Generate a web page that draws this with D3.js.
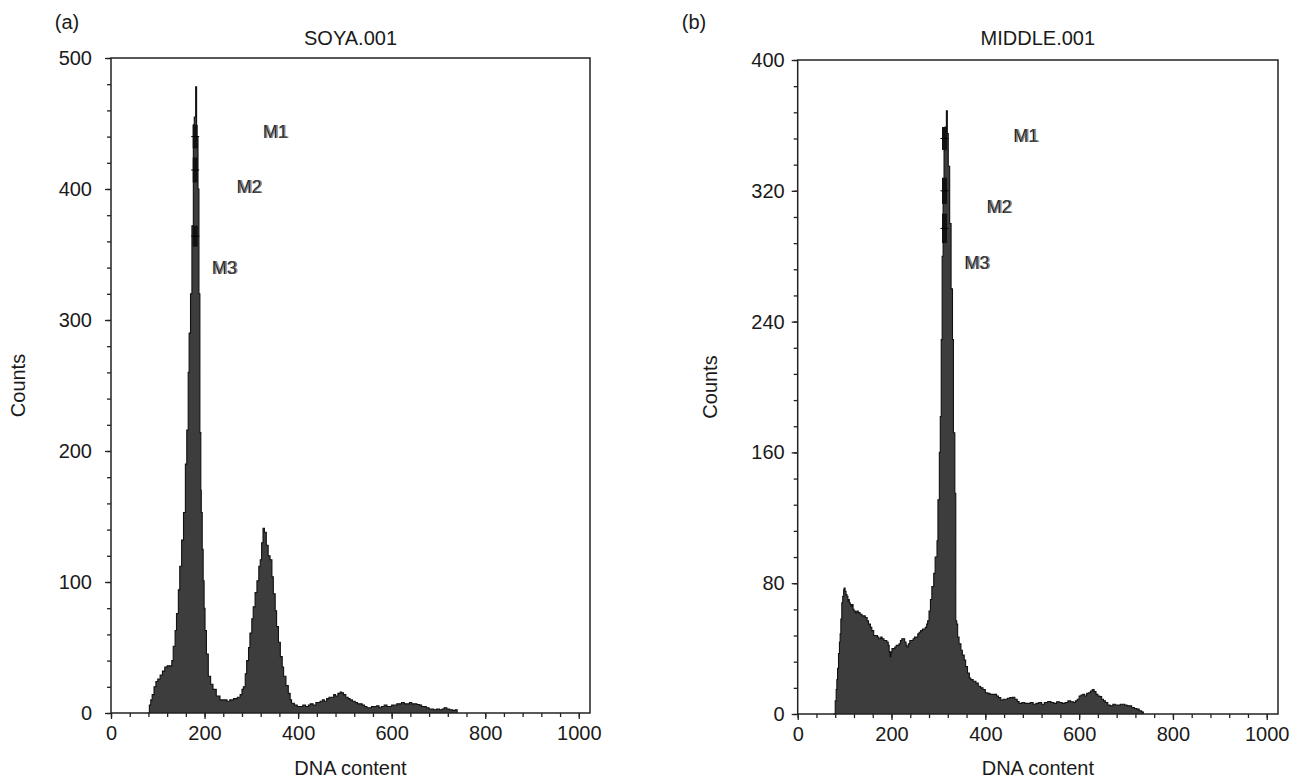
<!DOCTYPE html>
<html>
<head>
<meta charset="utf-8">
<script src="https://cdn.jsdelivr.net/npm/d3@7"></script>
<style>
  body { margin: 0; background: #fff; }
  text { font-family: "Liberation Sans", Arial, sans-serif; fill: #1a1a1a; }
</style>
</head>
<body>
<div class="chart"></div>
<script>
// ---- data ----
// panel (a) SOYA.001
var soyaChannel = [78,80,82,85,88,92,96,100,105,110,115,120,126,130,133,137,140,144,147,151,155,159,162,165,167,170,173,176,178,180,181,182,183,186,188,190,192,193,195,197,199,201,204,208,213,218,225,233,240,248,254,262,270,276,280,283,287,290,294,297,301,304,308,312,316,319,322,325,328,332,336,340,344,347,351,354,358,362,366,369,374,379,383,386,392,398,404,410,416,422,426,432,438,444,447,452,456,461,466,471,476,480,485,490,493,497,502,507,511,516,522,527,532,537,542,547,552,557,562,568,573,578,584,590,595,600,605,611,616,621,627,633,638,643,648,654,660,664,668,674,680,685,690,696,702,708,712,718,724,730,736,739,740];
var soyaCount = [0,0,6,10,14,20,24,26,29,32,35,36,36,40,51,63,76,94,112,132,153,190,216,260,290,320,372,449,455,455,478,478,440,400,320,214,170,153,125,101,80,63,45,28,22,18,13,10,10,9,10,11,12,14,18,20,30,40,50,61,72,81,92,101,112,117,130,141,138,128,120,117,104,91,78,66,54,43,35,28,21,15,10,7.5,6,5,5,6,5,6,7,6,8,8,9,10,9,11,12,12,14,13,15,16,15.5,14,12,11,10,9,8,7,7,6,5,4,4,5,5,5.5,4,5,6,5,5,6,6,7,7,8,7,7,8,7,7,6.5,6,5,5,4,3,3,2.5,3,2.5,3,4,3,2.5,2,2.5,2.5,0];

// panel (b) MIDDLE.001
var middleChannel = [76,79,80,82,83.5,85,87,89,90.5,92,94,96,98,99,101,103,105,107,108,110,112,114,116,118,120,123,126,129,133,137,141,144,148,151,155,158,162,166,170,173,177,180,184,187,190,193,195,197,199,201,204,207,210,213,216,219,222,225,228,231,233,236,239,242,246,249,252,256,259,262,266,269,272,275,277,280,283,286,290,293,297,299,302,304,306,308,310,312,314,316,317,318,319,321,324,327,330,332,335,337,339,341,344,348,351,355,358,362,366,369,374,380,385,390,395,400,405,410,415,419,424,428,433,438,442,447,452,458,463,468,472,478,484,490,496,502,508,514,520,526,533,540,546,552,558,564,570,576,582,588,592,596,600,604,608,612,616,620,624,628,632,636,640,644,648,652,656,661,666,672,677,683,688,692,697,702,707,712,718,723,728,733,736,737];
var middleCount = [0,0,8,15,21,28,37,44,49,58,68,72,76,77,75,73,72,69,70,68,67,66,67,64,63,62,63,62,61,60,60,59,57,55,53,51,48,48,47,46,47,46,45,45,44,42,38,35,38,40,40,41,42,42,43,45,46,46,44,42,41,43,45,45,46,47,47,49,50,51,52,52,53,55,57,63,70,78,86,96,106,131,160,182,229,280,320,345,359,359,369,369,355,335,300,260,229,172,135,57,55,47,43,39,36,33,29,25,22,21,20,19,17,16,15,13,12.6,12,12,12,11,10,8.6,9,9,9.6,10,10.2,9,7.6,6.5,7,6.5,6.5,7,6,6.5,7,6,7,7.6,7,6.5,7.5,7,6.5,7,8,7.5,7,8,9,11,11.6,12,11,12.7,13,14,15,13.7,12,11,10.6,9,8,7,5.5,5,6,5.5,5.5,6,6,5.5,5,5,4,3.4,3,2,1.4,1,0];

// axis ticks
var soyaYTicks = [0, 100, 200, 300, 400, 500];
var middleYTicks = [0, 80, 160, 240, 320, 400];
var xTicks = [0, 200, 400, 600, 800, 1000];

// region markers M1..M3 (bar channel, bar top/bottom counts, label position)
var markerLabels = ["M1", "M2", "M3"];
var soyaMarkerTop = [449, 424, 372];
var soyaMarkerBottom = [431, 405, 356];
var soyaLabelChannel = [351, 295, 242];
var soyaLabelCount = [444, 402, 340];
var middleMarkerTop = [359, 328, 306];
var middleMarkerBottom = [345, 312, 288];
var middleLabelChannel = [486, 429, 382];
var middleLabelCount = [354, 310, 276];

var svg = d3.select(".chart")
  .append("svg")
  .attr("width", 1307)
  .attr("height", 779);

function drawPanel(p) {
  var x = d3.scaleLinear().domain([0, 1024]).range([p.left, p.right]);
  var y = d3.scaleLinear().domain([0, p.yMax]).range([p.bottom, p.top]);
  var g = svg.append("g");

  // histogram as a filled step area
  var pts = p.channel.map(function(c, i) { return [c, p.count[i]]; });
  var area = d3.area()
    .curve(d3.curveStepAfter)
    .x(d => x(d[0]))
    .y0(y(0))
    .y1(d => y(d[1]));
  var line = d3.line()
    .curve(d3.curveStepAfter)
    .x(d => x(d[0]))
    .y(d => y(d[1]));

  g.append("path")
    .datum(pts)
    .attr("d", area)
    .attr("fill", "#3d3d3d");
  g.append("path")
    .datum(pts)
    .attr("d", line)
    .attr("fill", "none")
    .attr("stroke", "#111")
    .attr("stroke-width", 1.1);

  // marker bars on the peak
  markerLabels.forEach(function(m, i) {
    g.append("rect")
      .attr("x", x(p.markerChannel) - 2.5)
      .attr("y", y(p.markerTop[i]))
      .attr("width", 5)
      .attr("height", y(p.markerBottom[i]) - y(p.markerTop[i]))
      .attr("fill", "#111");
    g.append("line")
      .attr("x1", x(p.markerChannel) - 4)
      .attr("x2", x(p.markerChannel) + 4)
      .attr("y1", (y(p.markerTop[i]) + y(p.markerBottom[i])) / 2)
      .attr("y2", (y(p.markerTop[i]) + y(p.markerBottom[i])) / 2)
      .attr("stroke", "#000")
      .attr("stroke-width", 1);
    // labels look double printed
    [0, 1.5].forEach(function(off) {
      g.append("text")
        .attr("x", x(p.labelChannel[i]) + off)
        .attr("y", y(p.labelCount[i]))
        .attr("dy", "0.35em")
        .attr("text-anchor", "middle")
        .style("font-size", "18px")
        .style("fill", off ? "#555" : "#222")
        .style("fill-opacity", off ? 0.7 : 1)
        .text(m);
    });
  });

  // minor + major ticks
  var yMinor = d3.axisLeft(y).tickValues(d3.range(0, p.yMax + 1, p.yMax / 25)).tickSize(4).tickFormat("");
  var yMajor = d3.axisLeft(y).tickValues(p.yTicks).tickSize(6).tickPadding(p.yPad).tickFormat(d3.format("d"));
  var xMinor = d3.axisBottom(x).tickValues(d3.range(0, 1001, 40)).tickSize(4).tickFormat("");
  var xMajor = d3.axisBottom(x).tickValues(xTicks).tickSize(6).tickPadding(7).tickFormat(d3.format("d"));

  [yMinor, yMajor].forEach(function(ax) {
    g.append("g").attr("transform", `translate(${p.left},0)`).call(ax);
  });
  [xMinor, xMajor].forEach(function(ax) {
    g.append("g").attr("transform", `translate(0,${p.bottom})`).call(ax);
  });
  g.selectAll(".domain").remove();
  g.selectAll(".tick line").attr("stroke", "#222").attr("stroke-width", 1.3);
  g.selectAll(".tick text").style("font-size", "20px").style("font-family", "Liberation Sans, Arial, sans-serif").attr("fill", "#1a1a1a");

  // frame
  g.append("rect")
    .attr("x", p.left)
    .attr("y", p.top)
    .attr("width", p.right - p.left)
    .attr("height", p.bottom - p.top)
    .attr("fill", "none")
    .attr("stroke", "#222")
    .attr("stroke-width", 1.5);

  // titles
  var cx = (p.left + p.right) / 2;
  g.append("text")
    .attr("x", cx).attr("y", 45)
    .attr("text-anchor", "middle")
    .style("font-size", "20px")
    .text(p.title);
  g.append("text")
    .attr("x", p.tagX).attr("y", 29)
    .attr("text-anchor", "middle")
    .style("font-size", "20px")
    .text(p.tag);
  g.append("text")
    .attr("x", cx).attr("y", 775)
    .attr("text-anchor", "middle")
    .style("font-size", "20px")
    .text("DNA content");
  g.append("text")
    .attr("transform", `translate(${p.countsX},${(p.top + p.bottom) / 2}) rotate(-90)`)
    .attr("text-anchor", "middle")
    .attr("dy", "0.35em")
    .style("font-size", "20px")
    .text("Counts");
}

drawPanel({
  left: 111, right: 590, top: 58, bottom: 713, yMax: 500,
  channel: soyaChannel, count: soyaCount, yTicks: soyaYTicks, yPad: 13,
  markerChannel: 180, markerTop: soyaMarkerTop, markerBottom: soyaMarkerBottom,
  labelChannel: soyaLabelChannel, labelCount: soyaLabelCount,
  title: "SOYA.001", tag: "(a)", tagX: 67, countsX: 18
});

drawPanel({
  left: 797.7, right: 1278, top: 60, bottom: 714, yMax: 400,
  channel: middleChannel, count: middleCount, yTicks: middleYTicks, yPad: 7,
  markerChannel: 313, markerTop: middleMarkerTop, markerBottom: middleMarkerBottom,
  labelChannel: middleLabelChannel, labelCount: middleLabelCount,
  title: "MIDDLE.001", tag: "(b)", tagX: 694, countsX: 710
});
</script>
</body>
</html>
